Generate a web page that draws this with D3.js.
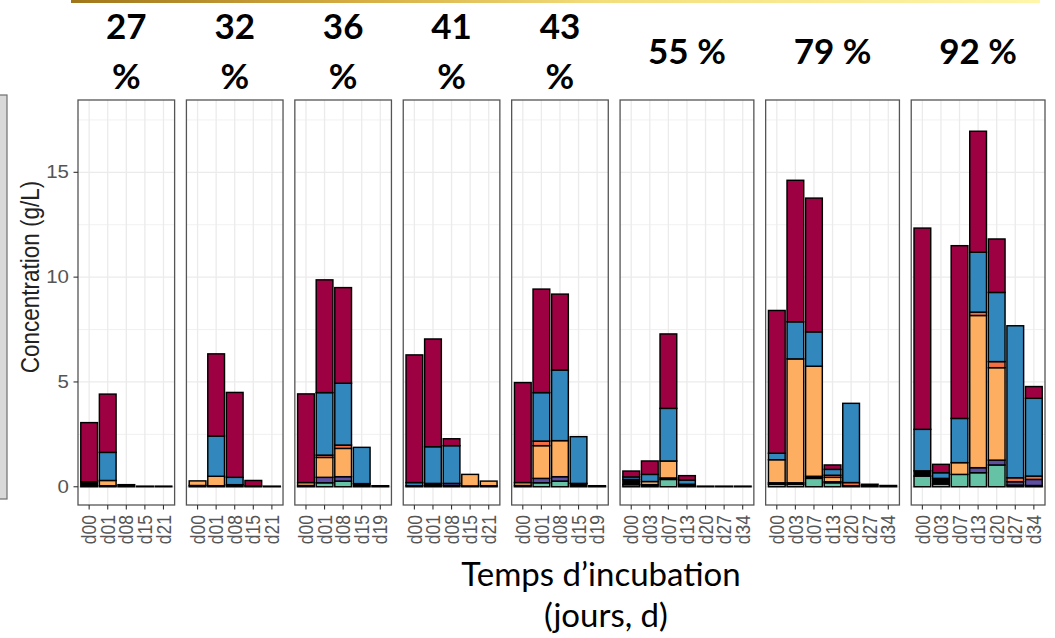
<!DOCTYPE html>
<html>
<head>
<meta charset="utf-8">
<script src="https://cdn.jsdelivr.net/npm/d3@7"></script>
<style>
  html, body { margin: 0; padding: 0; background: #ffffff; }
  svg { display: block; }
</style>
</head>
<body>
<svg id="chart" width="1055" height="638"></svg>
<script>
// ---------------- DATA ----------------
const panelTitles = ["27 %", "32 %", "36 %", "41 %", "43 %", "55 %", "79 %", "92 %"];
const panelDays = [
  ["d00", "d01", "d08", "d15", "d21"],
  ["d00", "d01", "d08", "d15", "d21"],
  ["d00", "d01", "d08", "d15", "d19"],
  ["d00", "d01", "d08", "d15", "d21"],
  ["d00", "d01", "d08", "d15", "d19"],
  ["d00", "d03", "d07", "d13", "d20", "d27", "d34"],
  ["d00", "d03", "d07", "d13", "d20", "d27", "d34"],
  ["d00", "d03", "d07", "d13", "d20", "d27", "d34"]
];
const yTicks = [0, 5, 10, 15];
const yTitle = "Concentration (g/L)";
const xTitleLines = ["Temps d\u2019incubation", "(jours, d)"];

// Stacked series, bottom to top; values [panel][day] in g/L
const seriesNames = ["S1", "S2", "S3", "S4", "S5", "S6", "S7"];
const s1 = [
  [0, 0, 0, 0, 0],
  [0, 0, 0, 0, 0],
  [0, 0.19, 0.27, 0, 0],
  [0, 0, 0, 0, 0],
  [0, 0.19, 0.27, 0, 0],
  [0.1, 0, 0.35, 0, 0, 0, 0],
  [0.12, 0.12, 0.4, 0.19, 0, 0, 0],
  [0.51, 0.13, 0.59, 0.67, 1.04, 0, 0]
];
const s2 = [
  [0.24, 0.05, 0.1, 0.03, 0.03],
  [0.06, 0.05, 0.1, 0.04, 0.03],
  [0.06, 0, 0, 0.15, 0.05],
  [0.05, 0.16, 0.06, 0.04, 0.05],
  [0.06, 0, 0, 0.16, 0.05],
  [0.25, 0.1, 0.07, 0.12, 0.03, 0.03, 0.03],
  [0.07, 0.07, 0.1, 0.05, 0.05, 0.12, 0.06],
  [0.25, 0.27, 0, 0, 0, 0.08, 0.06]
];
const s3 = [
  [0, 0, 0, 0, 0],
  [0, 0, 0, 0, 0],
  [0, 0.26, 0.21, 0, 0],
  [0, 0, 0.1, 0, 0],
  [0, 0.21, 0.21, 0, 0],
  [0, 0, 0, 0, 0, 0, 0],
  [0, 0, 0, 0, 0, 0, 0],
  [0, 0, 0, 0.24, 0.23, 0.16, 0.29]
];
const s4 = [
  [0, 0.25, 0, 0, 0],
  [0.22, 0.45, 0, 0, 0],
  [0.14, 0.95, 1.35, 0, 0],
  [0, 0, 0, 0.55, 0.22],
  [0.14, 1.56, 1.72, 0, 0],
  [0, 0.15, 0.81, 0, 0, 0, 0],
  [1.1, 5.91, 5.25, 0.21, 0, 0, 0],
  [0, 0, 0.56, 7.26, 4.41, 0, 0]
];
const s5 = [
  [0, 0, 0, 0, 0],
  [0, 0, 0, 0, 0],
  [0, 0.11, 0.16, 0, 0],
  [0, 0, 0, 0, 0],
  [0, 0.22, 0, 0, 0],
  [0, 0, 0, 0, 0, 0, 0],
  [0, 0, 0, 0.1, 0.15, 0, 0],
  [0, 0, 0, 0.16, 0.29, 0.19, 0.16]
];
const s6 = [
  [0, 1.34, 0, 0, 0],
  [0, 1.92, 0.35, 0, 0],
  [0, 2.98, 2.95, 1.73, 0],
  [0.15, 1.75, 1.8, 0, 0],
  [0, 2.31, 3.37, 2.23, 0],
  [0.12, 0.34, 2.51, 0.2, 0, 0, 0],
  [0.31, 1.77, 1.64, 0.28, 3.78, 0, 0],
  [1.98, 0.27, 2.11, 2.86, 3.3, 7.25, 3.71]
];
const s7 = [
  [2.82, 2.78, 0, 0, 0],
  [0, 3.92, 4.05, 0.26, 0],
  [4.23, 5.38, 4.56, 0, 0],
  [6.09, 5.14, 0.33, 0, 0],
  [4.77, 4.94, 3.62, 0, 0],
  [0.28, 0.64, 3.55, 0.21, 0, 0, 0],
  [6.81, 6.75, 6.38, 0.21, 0, 0, 0],
  [9.6, 0.4, 8.24, 5.77, 2.55, 0, 0.56]
];
const seriesValues = [s1, s2, s3, s4, s5, s6, s7];
const seriesColors = ["#66C2A5", "#000000", "#5E4FA2", "#FDAE61", "#F46D43", "#3288BD", "#9E0142"];

// ---------------- LAYOUT ----------------
const svg = d3.select("#chart");
const plotLeft = 78, plotRight = 1045, plotTop = 100, plotBottom = 505;
const gap = 11.8;
const SX = 1.17; // horizontal stretch of the plot's text
const tickFont = "'Liberation Sans', Arial, Helvetica, sans-serif";
const titleFont = "Lato, 'Open Sans', sans-serif";

// Decorations: top gradient line and left gray box
const defs = svg.append("defs");
const grad = defs.append("linearGradient").attr("id", "topGrad").attr("x1", "0%").attr("x2", "100%");
[["0%", "#A0761A"], ["30%", "#D6AE44"], ["55%", "#F3DE7C"], ["100%", "#FFF6AA"]].forEach(s =>
  grad.append("stop").attr("offset", s[0]).attr("stop-color", s[1]));
svg.append("rect").attr("x", 71).attr("y", 0).attr("width", 969).attr("height", 3).attr("fill", "url(#topGrad)");
svg.append("rect").attr("x", -2).attr("y", 95).attr("width", 9).attr("height", 404)
  .attr("fill", "#D9D9D9").attr("stroke", "#6E6E6E").attr("stroke-width", 1.2);

// Panel widths proportional to (n - 1 + 1.2) like ggplot discrete expansion
const units = panelDays.map(d => d.length - 1 + 1.2);
const totalUnits = d3.sum(units);
const unit = (plotRight - plotLeft - gap * (panelDays.length - 1)) / totalUnits;

const y = d3.scaleLinear().domain([-0.87, 18.45]).range([plotBottom, plotTop]);
const minorTicks = [2.5, 7.5, 12.5, 17.5];

let xCursor = plotLeft;
panelDays.forEach((days, p) => {
  const pw = units[p] * unit;
  const x0 = xCursor;
  xCursor += pw + gap;
  const x = d3.scalePoint().domain(days).range([0, pw]).padding(0.6);
  const bw = x.step() * 0.9;
  const g = svg.append("g").attr("transform", `translate(${x0},0)`);

  g.append("rect").attr("x", 0).attr("y", plotTop).attr("width", pw).attr("height", plotBottom - plotTop)
    .attr("fill", "#ffffff");
  g.selectAll(".minor").data(minorTicks).join("line")
    .attr("x1", 0).attr("x2", pw).attr("y1", d => y(d)).attr("y2", d => y(d))
    .attr("stroke", "#EEEEEE").attr("stroke-width", 0.9);
  g.selectAll(".majorY").data(yTicks).join("line")
    .attr("x1", 0).attr("x2", pw).attr("y1", d => y(d)).attr("y2", d => y(d))
    .attr("stroke", "#EBEBEB").attr("stroke-width", 1.3);
  g.selectAll(".majorX").data(days).join("line")
    .attr("x1", d => x(d)).attr("x2", d => x(d)).attr("y1", plotTop).attr("y2", plotBottom)
    .attr("stroke", "#EBEBEB").attr("stroke-width", 1.3);

  // stacked bars
  days.forEach((day, i) => {
    let cum = 0;
    seriesValues.forEach((sv, s) => {
      const v = sv[p][i];
      if (!(v > 0)) return;
      g.append("rect")
        .attr("x", x(day) - bw / 2)
        .attr("width", bw)
        .attr("y", y(cum + v))
        .attr("height", Math.max(y(cum) - y(cum + v), 0.01))
        .attr("fill", seriesColors[s])
        .attr("stroke", "#000000")
        .attr("stroke-width", 1.45);
      cum += v;
    });
  });

  g.append("rect").attr("x", 0).attr("y", plotTop).attr("width", pw).attr("height", plotBottom - plotTop)
    .attr("fill", "none").attr("stroke", "#555555").attr("stroke-width", 1.3);

  // x ticks
  g.selectAll(".xt").data(days).join("line")
    .attr("x1", d => x(d)).attr("x2", d => x(d)).attr("y1", plotBottom).attr("y2", plotBottom + 4.5)
    .attr("stroke", "#333333").attr("stroke-width", 1.1);
  g.selectAll(".xl").data(days).join("text")
    .attr("transform", d => `translate(${x(d)},${plotBottom + 10}) scale(${SX},1) rotate(-90)`)
    .attr("text-anchor", "end").attr("dy", "0.35em")
    .attr("font-family", tickFont).attr("font-size", 17.5).attr("fill", "#555555")
    .text(d => d);

  // panel title (wrapped on narrow panels)
  const title = panelTitles[p];
  const lines = days.length <= 5 ? title.split(" ") : [title];
  const cx = x0 + pw / 2;
  const baselines = lines.length === 2 ? [39, 89] : [64];
  lines.forEach((ln, k) => {
    svg.append("text").attr("x", cx).attr("y", baselines[k]).attr("text-anchor", "middle")
      .attr("font-family", titleFont).attr("font-weight", "bold")
      .attr("font-size", 35).attr("fill", "#000000").text(ln);
  });

  // y axis on first panel
  if (p === 0) {
    g.selectAll(".yt").data(yTicks).join("line")
      .attr("x1", -4.5).attr("x2", 0).attr("y1", d => y(d)).attr("y2", d => y(d))
      .attr("stroke", "#333333").attr("stroke-width", 1.1);
    g.selectAll(".yl").data(yTicks).join("text")
      .attr("transform", d => `translate(-9,${y(d)}) scale(${SX},1)`)
      .attr("text-anchor", "end").attr("dy", "0.35em")
      .attr("font-family", tickFont).attr("font-size", 17.5).attr("fill", "#555555")
      .text(d => d);
  }
});

// y axis title
svg.append("text")
  .attr("transform", `translate(30,277) scale(${SX},1) rotate(-90)`)
  .attr("text-anchor", "middle").attr("dy", "0.35em")
  .attr("font-family", tickFont).attr("font-size", 22.5).attr("fill", "#222222")
  .text(yTitle);

// x axis title
svg.append("text").attr("x", 601).attr("y", 586).attr("text-anchor", "middle")
  .attr("font-family", titleFont).attr("font-size", 33).attr("fill", "#000000")
  .text(xTitleLines[0]);
svg.append("text").attr("x", 606).attr("y", 627).attr("text-anchor", "middle")
  .attr("font-family", titleFont).attr("font-size", 33).attr("fill", "#000000")
  .text(xTitleLines[1]);
</script>
</body>
</html>
